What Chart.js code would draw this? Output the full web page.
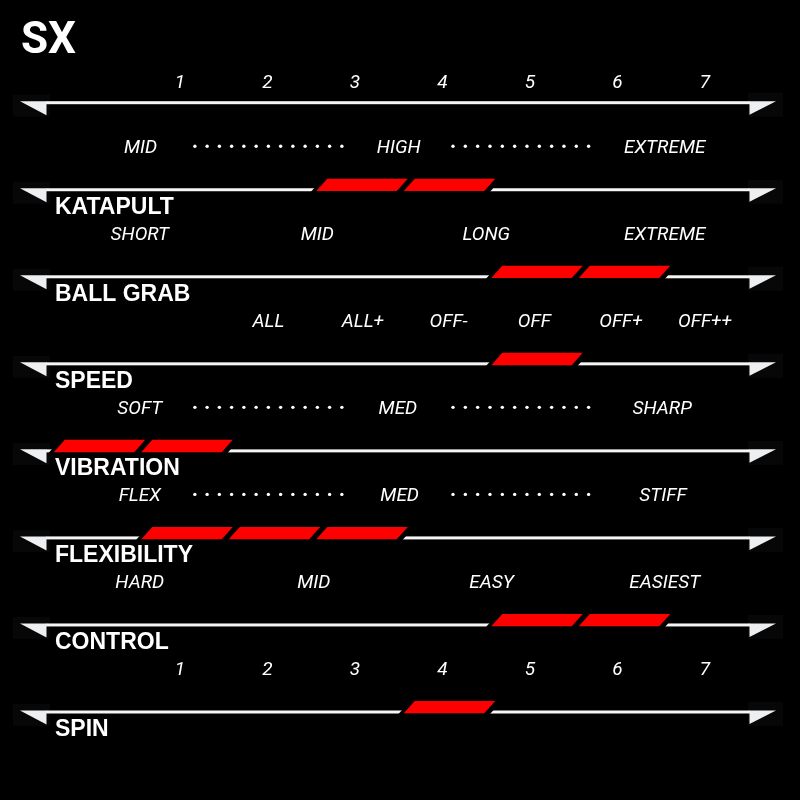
<!DOCTYPE html>
<html><head><meta charset="utf-8">
<style>html,body{margin:0;padding:0;background:#000;overflow:hidden}#wrap{width:800px;height:800px}</style>
<script src="https://cdn.jsdelivr.net/npm/chart.js@4/dist/chart.umd.min.js"></script>
</head><body><div id="wrap"><canvas id="c" width="800" height="800"></canvas></div>
<script>
// ---------- data ----------
const chartTitle = 'SX';
const rowNames = ['', 'KATAPULT', 'BALL GRAB', 'SPEED', 'VIBRATION', 'FLEXIBILITY', 'CONTROL', 'SPIN'];
const levelFrom = [null, 3, 5, 5, 0, 1, 5, 4];
const levelTo   = [null, 4, 6, 5, 1, 3, 6, 4];
const tickLabels = ['1', '2', '3', '4', '5', '6', '7'];
const tickValues = [1, 2, 3, 4, 5, 6, 7];
// scale words written above each row line (axis values)
const katapultWords = ['MID', 'HIGH', 'EXTREME'];
const katapultWordsAt = [0.55, 3.5, 6.54];
const ballGrabWords = ['SHORT', 'MID', 'LONG', 'EXTREME'];
const ballGrabWordsAt = [0.54, 2.57, 4.5, 6.54];
const speedWords = ['ALL', 'ALL+', 'OFF-', 'OFF', 'OFF+', 'OFF++'];
const speedWordsAt = [2.01, 3.09, 4.07, 5.05, 6.04, 7.0];
const vibrationWords = ['SOFT', 'MED', 'SHARP'];
const vibrationWordsAt = [0.54, 3.49, 6.51];
const flexibilityWords = ['FLEX', 'MED', 'STIFF'];
const flexibilityWordsAt = [0.54, 3.51, 6.52];
const controlWords = ['HARD', 'MID', 'EASY', 'EASIEST'];
const controlWordsAt = [0.54, 2.53, 4.56, 6.54];
const dottedRows = [1, 4, 5];

const wordsByRow = [null,
  [katapultWords, katapultWordsAt],
  [ballGrabWords, ballGrabWordsAt],
  [speedWords, speedWordsAt],
  [vibrationWords, vibrationWordsAt],
  [flexibilityWords, flexibilityWordsAt],
  [controlWords, controlWordsAt],
  [tickLabels, tickValues]];

const DESC_FONT = "italic 19px Roboto";
const NAME_FONT = "bold 23px 'Liberation Sans'";
const TITLE_FONT = "bold 44px Roboto";
const dotRuns = [[1.17, 2.85, 13], [4.12, 5.67, 12]];

const skin = {
  id: 'skin',
  beforeDraw(chart) {
    const ctx = chart.ctx;
    ctx.save(); ctx.fillStyle = '#000'; ctx.fillRect(0, 0, chart.width, chart.height); ctx.restore();
  },
  afterDatasetsDraw(chart) {
    const ctx = chart.ctx, xs = chart.scales.x, ys = chart.scales.y;
    const meta = chart.getDatasetMeta(0);
    ctx.save();
    rowNames.forEach((name, i) => {
      const y = ys.getPixelForValue(i);
      ctx.fillStyle = '#070707';
      ctx.fillRect(13, y - 8, 37, 22);
      ctx.fillRect(748, y - 10, 35, 24);
      ctx.fillStyle = '#f5f5f5';
      ctx.fillRect(46, y - 1.5, 704, 3);
      ctx.fillStyle = '#eeeff1';
      ctx.beginPath(); ctx.moveTo(20, y - 1.5); ctx.lineTo(46.5, y - 1.5); ctx.lineTo(46.5, y + 12.5); ctx.closePath(); ctx.fill();
      ctx.beginPath(); ctx.moveTo(749.5, y - 1.5); ctx.lineTo(776, y - 1.5); ctx.lineTo(749.5, y + 12); ctx.closePath(); ctx.fill();
      if (levelFrom[i] !== null) {
        const el = meta.data[i];
        const base = Math.min(el.base, el.x), end = Math.max(el.base, el.x);
        const n = levelTo[i] - levelFrom[i] + 1;
        const w = (end - base) / n;
        const sk = 11, yt = y - 11, yb = y + 1.3;
        const para = (l, r, t, b) => {
          const s = sk * (b - t) / (yb - yt);
          ctx.beginPath(); ctx.moveTo(l, b); ctx.lineTo(r, b); ctx.lineTo(r + s, t); ctx.lineTo(l + s, t); ctx.closePath();
        };
        ctx.fillStyle = '#000';
        para(base + 5 - 5.5, end - 2 + 5.5, yt, yb + 1);
        ctx.fill();
        ctx.fillStyle = '#ff0000';
        for (let k = 0; k < n; k++) { para(base + k * w + 5, base + (k + 1) * w - 2, yt, yb); ctx.fill(); }
      }
    });
    // title
    ctx.fillStyle = '#fff';
    ctx.font = TITLE_FONT; ctx.textAlign = 'left'; ctx.textBaseline = 'alphabetic';
    ctx.fillText(chartTitle, 21, 53);
    // header numbers
    ctx.font = DESC_FONT; ctx.textAlign = 'center';
    const y0 = ys.getPixelForValue(0);
    tickValues.forEach((v, k) => ctx.fillText(tickLabels[k], xs.getPixelForValue(v), y0 - 14.7));
    // words above rows
    for (let i = 1; i < rowNames.length; i++) {
      const mid = (ys.getPixelForValue(i - 1) + ys.getPixelForValue(i)) / 2;
      const [words, at] = wordsByRow[i];
      ctx.font = DESC_FONT; ctx.textAlign = 'center';
      words.forEach((t, k) => ctx.fillText(t, xs.getPixelForValue(at[k]), mid + 7));
      if (dottedRows.includes(i)) {
        dotRuns.forEach(([a, b, cnt]) => {
          const xa = xs.getPixelForValue(a), xb = xs.getPixelForValue(b);
          for (let d = 0; d < cnt; d++) {
            const x = xa + (xb - xa) * d / (cnt - 1);
            ctx.beginPath(); ctx.arc(x, mid, 1.7, 0, Math.PI * 2); ctx.fill();
          }
        });
      }
      const y = ys.getPixelForValue(i);
      ctx.font = NAME_FONT; ctx.textAlign = 'left';
      ctx.fillText(rowNames[i], 55, y + 24.5);
    }
    ctx.restore();
  }
};

new Chart(document.getElementById('c'), {
  type: 'bar',
  data: {
    labels: rowNames,
    datasets: [{
      data: levelFrom.map((f, i) => f === null ? null : [f - 0.5, levelTo[i] + 0.5]),
      backgroundColor: 'rgba(0,0,0,0)', borderWidth: 0, barThickness: 12
    }]
  },
  options: {
    indexAxis: 'y', responsive: false, animation: false, devicePixelRatio: 1,
    layout: { padding: { left: 92.5, right: 7.5, top: 59.18, bottom: 44.48 } },
    scales: {
      x: { type: 'linear', min: 0, max: 8, display: false },
      y: { type: 'category', offset: true, display: false }
    },
    plugins: { legend: { display: false }, title: { display: false }, tooltip: { enabled: false } }
  },
  plugins: [skin]
});
</script></body></html>
